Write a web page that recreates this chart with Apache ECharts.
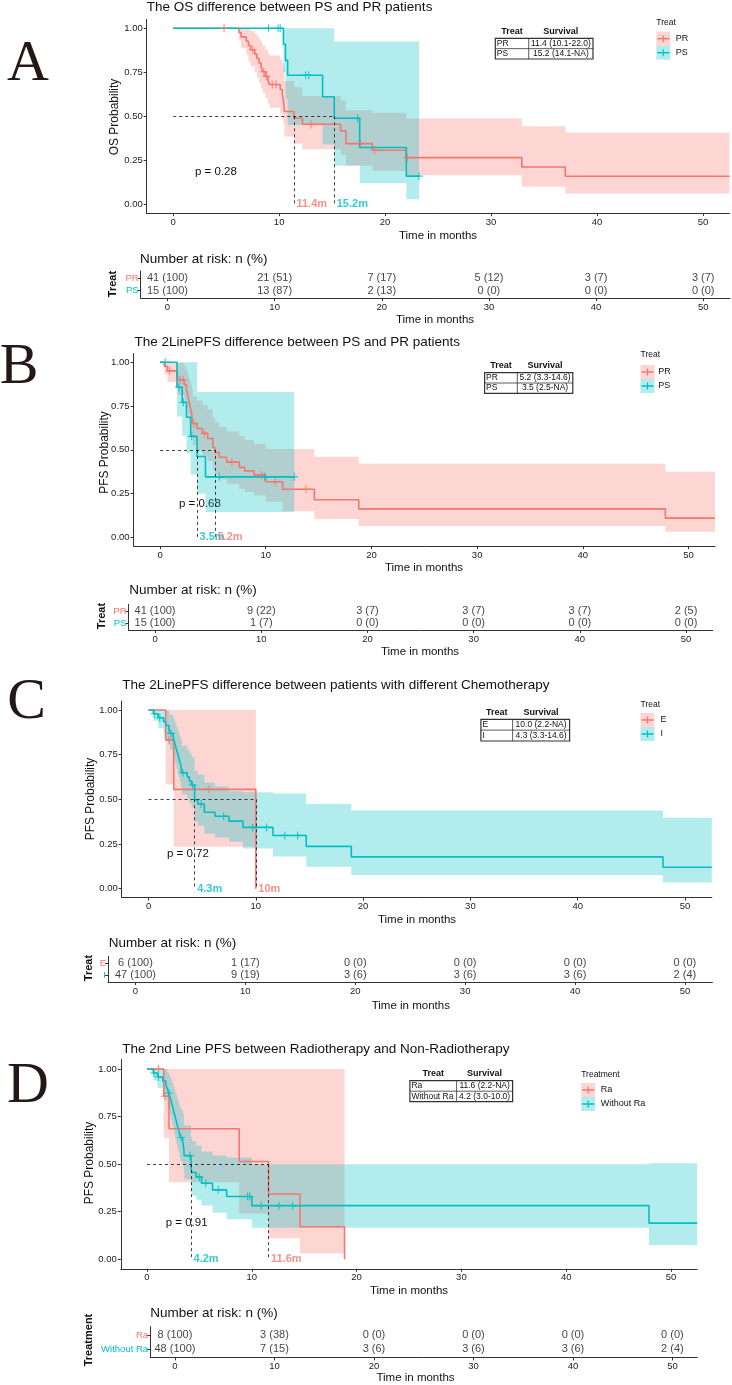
<!DOCTYPE html>
<html>
<head>
<meta charset="utf-8">
<script src="https://cdn.jsdelivr.net/npm/echarts@6/dist/echarts.min.js"></script>
<style>
  html, body { margin: 0; padding: 0; background: #fff; }
  #main { width: 732px; height: 1385px; }
</style>
</head>
<body>
<div id="main"></div>
<script>
var chart = echarts.init(document.getElementById('main'));

var RED = '#F8766D', TEAL = '#00BFC4';
var FONT = '"Liberation Sans", Arial, sans-serif';
var SERIF = '"Liberation Serif", "Times New Roman", serif';
var PLUS = 'path://M4.3,0H5.7V4.3H10V5.7H5.7V10H4.3V5.7H0V4.3H4.3Z';

// ---------- A: OS, PR vs PS ----------
var aPR_t  = [0, 6.2, 6.4, 6.9, 7.1, 7.3, 7.7, 7.9, 8.1, 8.3, 8.45, 8.7, 8.95, 9.1, 10.1, 10.3, 10.4, 10.5, 11.4, 12.2, 15.8, 16.3, 18.8, 22.0, 32.9, 37.0];
var aPR_s  = [1, 0.976, 0.951, 0.927, 0.902, 0.878, 0.853, 0.828, 0.803, 0.778, 0.753, 0.727, 0.70, 0.681, 0.652, 0.623, 0.594, 0.527, 0.49, 0.455, 0.417, 0.345, 0.307, 0.265, 0.212, 0.159];
var aPR_lo = [1, 0.93, 0.887, 0.851, 0.816, 0.783, 0.751, 0.72, 0.689, 0.66, 0.631, 0.601, 0.571, 0.548, 0.516, 0.484, 0.454, 0.385, 0.345, 0.313, 0.28, 0.219, 0.19, 0.165, 0.10, 0.062];
var aPR_hi = [1, 1, 1, 1, 0.998, 0.984, 0.969, 0.953, 0.936, 0.917, 0.899, 0.879, 0.858, 0.846, 0.824, 0.801, 0.778, 0.70, 0.665, 0.615, 0.59, 0.534, 0.52, 0.487, 0.443, 0.408];
var aPR_cens = [4.8, 7.5, 8.55, 8.8, 9.35, 9.7, 13.0, 17.7, 19.0, 22.1];
var aPS_t  = [0, 10.4, 10.6, 10.8, 14.1, 15.2, 17.6, 22.0];
var aPS_s  = [1, 0.909, 0.818, 0.733, 0.611, 0.489, 0.323, 0.16];
var aPS_lo = [1, 0.75, 0.6, 0.45, 0.34, 0.22, 0.12, 0.028];
var aPS_hi = [1, 1, 1, 1, 1, 0.925, 0.925, 0.925];
var aPS_cens = [9.0, 9.9, 10.1, 12.5, 12.8, 17.4, 23.2];
var aMedians = [11.4, 15.2];
var aRiskPR = [41, 21, 7, 5, 3, 3], aRiskPRpct = [100, 51, 17, 12, 7, 7];
var aRiskPS = [15, 13, 2, 0, 0, 0], aRiskPSpct = [100, 87, 13, 0, 0, 0];
var aSummary = [['PR', '11.4 (10.1-22.0)'], ['PS', '15.2 (14.1-NA)']];

// ---------- B: 2nd line PFS, PR vs PS ----------
var bPR_t  = [0, 0.4, 0.7, 1.6, 1.7, 2.3, 2.5, 2.6, 2.7, 2.8, 2.9, 3.0, 3.1, 3.5, 4.0, 4.5, 5.0, 5.2, 5.6, 6.3, 7.5, 8.0, 8.9, 10.0, 11.6, 14.6, 18.8, 47.8];
var bPR_s  = [1, 0.976, 0.951, 0.926, 0.90, 0.872, 0.844, 0.816, 0.788, 0.76, 0.732, 0.704, 0.65, 0.622, 0.594, 0.565, 0.513, 0.485, 0.458, 0.43, 0.40, 0.38, 0.357, 0.318, 0.275, 0.215, 0.163, 0.11];
var bPR_lo = [1, 0.93, 0.887, 0.85, 0.815, 0.78, 0.745, 0.71, 0.68, 0.645, 0.615, 0.585, 0.525, 0.495, 0.467, 0.438, 0.385, 0.358, 0.332, 0.306, 0.278, 0.26, 0.24, 0.204, 0.15, 0.105, 0.065, 0.032];
var bPR_hi = [1, 1, 1, 1, 0.995, 0.975, 0.955, 0.935, 0.915, 0.895, 0.872, 0.848, 0.805, 0.781, 0.757, 0.73, 0.683, 0.657, 0.631, 0.605, 0.577, 0.556, 0.533, 0.505, 0.505, 0.46, 0.42, 0.375];
var bPR_cens = [0.9, 1.9, 2.2, 3.2, 4.2, 6.8, 9.6, 10.9, 13.8];
var bPS_t  = [0, 1.6, 2.1, 2.5, 2.9, 3.5, 4.3];
var bPS_s  = [1, 0.857, 0.771, 0.686, 0.577, 0.462, 0.346];
var bPS_lo = [1, 0.69, 0.58, 0.48, 0.36, 0.25, 0.145];
var bPS_hi = [1, 1, 1, 1, 1, 0.83, 0.83];
var bPS_cens = [0.5, 1.8, 2.2, 3.0, 5.6, 9.9, 12.7];
var bMedians = [5.2, 3.5];
var bRiskPR = [41, 9, 3, 3, 3, 2], bRiskPRpct = [100, 22, 7, 7, 7, 5];
var bRiskPS = [15, 1, 0, 0, 0, 0], bRiskPSpct = [100, 7, 0, 0, 0, 0];
var bSummary = [['PR', '5.2 (3.3-14.6)'], ['PS', '3.5 (2.5-NA)']];

// ---------- C: 2nd line PFS by chemotherapy ----------
var cE_t  = [0, 1.6, 2.35, 10.0];
var cE_s  = [1, 0.833, 0.556, 0];
var cE_lo = [1, 0.584, 0.235];
var cE_hi = [1, 1, 1];
var cE_cens = [1.9, 5.65];
var cI_t  = [0, 0.45, 0.9, 1.4, 1.6, 1.9, 2.0, 2.3, 2.4, 2.5, 2.6, 2.7, 2.8, 2.9, 3.0, 3.1, 3.6, 3.8, 4.0, 4.3, 4.6, 5.2, 6.2, 7.5, 8.8, 11.6, 14.7, 18.9, 47.95];
var cI_s  = [1, 0.979, 0.957, 0.935, 0.913, 0.891, 0.869, 0.847, 0.825, 0.803, 0.781, 0.759, 0.737, 0.715, 0.693, 0.649, 0.626, 0.603, 0.58, 0.497, 0.474, 0.428, 0.405, 0.378, 0.343, 0.298, 0.237, 0.178, 0.12];
var cI_lo = [1, 0.94, 0.90, 0.865, 0.835, 0.805, 0.777, 0.75, 0.723, 0.697, 0.672, 0.647, 0.622, 0.598, 0.574, 0.527, 0.503, 0.479, 0.456, 0.374, 0.352, 0.308, 0.287, 0.262, 0.225, 0.18, 0.123, 0.076, 0.035];
var cI_hi = [1, 1, 1, 1, 0.998, 0.985, 0.972, 0.957, 0.941, 0.925, 0.908, 0.89, 0.873, 0.855, 0.837, 0.80, 0.779, 0.759, 0.738, 0.66, 0.638, 0.595, 0.572, 0.546, 0.54, 0.533, 0.474, 0.437, 0.397];
var cI_cens = [0.55, 1.05, 2.1, 3.2, 4.1, 4.9, 7.0, 9.7, 11.0, 12.7, 13.9];
var cMedians = [10, 4.3];
var cRiskE = [6, 1, 0, 0, 0, 0], cRiskEpct = [100, 17, 0, 0, 0, 0];
var cRiskI = [47, 9, 3, 3, 3, 2], cRiskIpct = [100, 19, 6, 6, 6, 4];
var cSummary = [['E', '10.0 (2.2-NA)'], ['I', '4.3 (3.3-14.6)']];

// ---------- D: 2nd line PFS, radiotherapy ----------
var dRa_t  = [0, 1.6, 2.1, 8.8, 11.6, 14.6, 18.85];
var dRa_s  = [1, 0.857, 0.686, 0.514, 0.343, 0.171, 0];
var dRa_lo = [1, 0.636, 0.405, 0.24, 0.11, 0.03];
var dRa_hi = [1, 1, 1, 1, 1, 1];
var dRa_cens = [1.1, 1.7];
var dWo_t  = [0, 0.6, 1.0, 1.5, 1.8, 1.95, 2.05, 2.2, 2.3, 2.4, 2.5, 2.6, 2.7, 2.8, 2.9, 3.0, 3.1, 3.2, 3.4, 3.5, 3.55, 4.2, 4.3, 4.7, 5.2, 6.25, 7.6, 10.0, 47.9];
var dWo_s  = [1, 0.979, 0.958, 0.937, 0.916, 0.895, 0.874, 0.852, 0.831, 0.81, 0.789, 0.767, 0.746, 0.725, 0.703, 0.682, 0.661, 0.64, 0.618, 0.589, 0.545, 0.478, 0.456, 0.433, 0.40, 0.365, 0.33, 0.282, 0.19];
var dWo_lo = [1, 0.94, 0.90, 0.87, 0.84, 0.81, 0.785, 0.757, 0.731, 0.705, 0.68, 0.655, 0.63, 0.607, 0.583, 0.56, 0.538, 0.516, 0.493, 0.464, 0.42, 0.355, 0.335, 0.313, 0.283, 0.245, 0.21, 0.166, 0.075];
var dWo_hi = [1, 1, 1, 1, 0.998, 0.985, 0.972, 0.958, 0.943, 0.927, 0.911, 0.895, 0.878, 0.861, 0.843, 0.825, 0.807, 0.789, 0.769, 0.742, 0.705, 0.643, 0.62, 0.598, 0.566, 0.545, 0.535, 0.50, 0.505];
var dWo_cens = [0.67, 1.1, 2.1, 3.25, 4.1, 5.0, 5.6, 6.8, 9.6, 9.8, 10.9, 12.6, 13.9];
var dMedians = [11.6, 4.2];
var dRiskRa = [8, 3, 0, 0, 0, 0], dRiskRapct = [100, 38, 0, 0, 0, 0];
var dRiskWo = [48, 7, 3, 3, 3, 2], dRiskWopct = [100, 15, 6, 6, 6, 4];
var dSummary = [['Ra', '11.6 (2.2-NA)'], ['Without Ra', '4.2 (3.0-10.0)']];

var timeTicks = [0, 10, 20, 30, 40, 50];
var probTicks = [0, 0.25, 0.5, 0.75, 1];

// 每个面板的布局 (pixel positions)
var panels = [
  {
    letter: 'A', lx: 28, ly: 65, title: 'The OS difference between PS and PR patients', tx: 146.7, ty: 7,
    grid: [146.7, 19.5, 582.8, 193.6], ylab: 'OS Probability', ylx: 115, yly: 117, xlx: 438, xly: 236,
    pval: 'p = 0.28', px: 195, py: 172, medians: aMedians,
    curves: [
      { name: 'PR', color: RED, t: aPR_t, s: aPR_s, lo: aPR_lo, hi: aPR_hi, end: 52.5, cens: aPR_cens, risk: aRiskPR, pct: aRiskPRpct },
      { name: 'PS', color: TEAL, t: aPS_t, s: aPS_s, lo: aPS_lo, hi: aPS_hi, end: 23.2, cens: aPS_cens, risk: aRiskPS, pct: aRiskPSpct }
    ],
    legend: { title: 'Treat', x: 656.3, y: 22.7, keyTop: 31.7, labX: 675.7 },
    table: { x0: 495.3, x1: 593, y0: 38.3, y1: 59, div: 528.7, hy: 31.7, rows: aSummary },
    risk: { grid: [140.7, 270.8, 589.3, 27.3], tx: 140, ty: 259.3, nameX: 113, nameY: 284, name: 'Treat', xlx: 435, xly: 320 }
  },
  {
    letter: 'B', lx: 19, ly: 368, title: 'The 2LinePFS difference between PS and PR patients', tx: 134.5, ty: 342.3,
    grid: [133.6, 353.5, 581.4, 192.7], ylab: 'PFS Probability', ylx: 105, yly: 452.5, xlx: 424, xly: 568,
    pval: 'p = 0.68', px: 179, py: 503.7, medians: bMedians,
    curves: [
      { name: 'PR', color: RED, t: bPR_t, s: bPR_s, lo: bPR_lo, hi: bPR_hi, end: 52.5, cens: bPR_cens, risk: bRiskPR, pct: bRiskPRpct },
      { name: 'PS', color: TEAL, t: bPS_t, s: bPS_s, lo: bPS_lo, hi: bPS_hi, end: 12.7, cens: bPS_cens, risk: bRiskPS, pct: bRiskPSpct }
    ],
    legend: { title: 'Treat', x: 640.5, y: 355, keyTop: 365, labX: 658.3 },
    table: { x0: 484.6, x1: 572.8, y0: 372.7, y1: 393.3, div: 517.3, hy: 365.7, rows: bSummary },
    risk: { grid: [128.5, 604.3, 584.1, 25.7], tx: 129.3, ty: 590.3, nameX: 101.8, nameY: 616, name: 'Treat', xlx: 420, xly: 651.7 }
  },
  {
    letter: 'C', lx: 26.5, ly: 703, title: 'The 2LinePFS difference between patients with different Chemotherapy', tx: 122.3, ty: 685,
    grid: [121.7, 701.1, 590.1, 196.5], ylab: 'PFS Probability', ylx: 91, yly: 799, xlx: 417, xly: 920,
    pval: 'p = 0.72', px: 167, py: 854, medians: cMedians,
    curves: [
      { name: 'E', color: RED, t: cE_t, s: cE_s, lo: cE_lo, hi: cE_hi, end: 10.0, cens: cE_cens, risk: cRiskE, pct: cRiskEpct },
      { name: 'I', color: TEAL, t: cI_t, s: cI_s, lo: cI_lo, hi: cI_hi, end: 52.5, cens: cI_cens, risk: cRiskI, pct: cRiskIpct }
    ],
    legend: { title: 'Treat', x: 640.5, y: 705, keyTop: 713, labX: 660.6 },
    table: { x0: 480.9, x1: 569.6, y0: 719.3, y1: 741, div: 512.6, hy: 712.7, rows: cSummary },
    risk: { grid: [108, 956.3, 604.4, 25.7], tx: 108.8, ty: 943.3, nameX: 88.7, nameY: 968, name: 'Treat', xlx: 410.8, xly: 1006 }
  },
  {
    letter: 'D', lx: 28, ly: 1087, title: 'The 2nd Line PFS between Radiotherapy and Non-Radiotherapy', tx: 122.3, ty: 1049,
    grid: [120.8, 1059.5, 576.4, 209.3], ylab: 'PFS Probability', ylx: 90, yly: 1163, xlx: 409, xly: 1290.7,
    pval: 'p = 0.91', px: 165.7, py: 1222.7, medians: dMedians,
    curves: [
      { name: 'Ra', color: RED, t: dRa_t, s: dRa_s, lo: dRa_lo, hi: dRa_hi, end: 18.85, cens: dRa_cens, risk: dRiskRa, pct: dRiskRapct },
      { name: 'Without Ra', color: TEAL, t: dWo_t, s: dWo_s, lo: dWo_lo, hi: dWo_hi, end: 52.5, cens: dWo_cens, risk: dRiskWo, pct: dRiskWopct }
    ],
    legend: { title: 'Treatment', x: 581.2, y: 1074.3, keyTop: 1083, labX: 600.8 },
    table: { x0: 409.9, x1: 512.6, y0: 1080.7, y1: 1101.7, div: 456.6, hy: 1074, rows: dSummary },
    risk: { grid: [150.1, 1326.6, 547.2, 30.8], tx: 150.3, ty: 1313.3, nameX: 88.7, nameY: 1340, name: 'Treatment', xlx: 415.5, xly: 1378.3 }
  }
];

function stepAt(c, t) {
  var v = c.s[0];
  for (var i = 0; i < c.t.length; i++) { if (c.t[i] <= t) v = c.s[i]; }
  return v;
}

function timeAxis(gi) {
  return {
    type: 'value', gridIndex: gi, min: -2.5, max: 52.5,
    axisLine: { onZero: false, lineStyle: { color: '#333', width: 1 } },
    splitLine: { show: false },
    axisTick: { length: 3, customValues: timeTicks, lineStyle: { color: '#333' } },
    axisLabel: { customValues: timeTicks, fontSize: 9.5, color: '#222', margin: 4, fontFamily: FONT }
  };
}

var grids = [], xAxes = [], yAxes = [], series = [], graphics = [];

function txt(x, y, text, o) {
  o = o || {};
  graphics.push({
    type: 'text', x: x, y: y, rotation: o.rot || 0, silent: true,
    style: {
      text: text, fontSize: o.size || 11, fontFamily: o.family || FONT, fill: o.color || '#111',
      fontWeight: o.weight || 'normal', align: o.align || 'left', verticalAlign: 'middle'
    }
  });
}
function line(x1, y1, x2, y2, color, w) {
  graphics.push({ type: 'line', silent: true, shape: { x1: x1, y1: y1, x2: x2, y2: y2 }, style: { stroke: color, lineWidth: w } });
}

panels.forEach(function (p) {
  // ---- main KM grid ----
  var gi = grids.length;
  grids.push({ left: p.grid[0], top: p.grid[1], width: p.grid[2], height: p.grid[3] });
  xAxes.push(timeAxis(gi));
  yAxes.push({
    type: 'value', gridIndex: gi, min: -0.05, max: 1.05,
    axisLine: { show: true, onZero: false, lineStyle: { color: '#333', width: 1 } },
    splitLine: { show: false },
    axisTick: { show: true, length: 3, customValues: probTicks, lineStyle: { color: '#333' } },
    axisLabel: { customValues: probTicks, fontSize: 9.5, color: '#222', margin: 4, fontFamily: FONT,
      formatter: function (v) { return v.toFixed(2); } }
  });

  // confidence bands
  p.curves.forEach(function (c) {
    series.push({
      type: 'custom', xAxisIndex: gi, yAxisIndex: gi, silent: true, z: 1, animation: false,
      data: [[0, 0]],
      renderItem: function (params, api) {
        var up = [], dn = [];
        for (var i = 0; i < c.lo.length; i++) {
          var t0 = c.t[i], t1 = (i + 1 < c.t.length) ? c.t[i + 1] : c.end;
          up.push(api.coord([t0, c.hi[i]]), api.coord([t1, c.hi[i]]));
          dn.push(api.coord([t0, c.lo[i]]), api.coord([t1, c.lo[i]]));
        }
        return { type: 'polygon', shape: { points: up.concat(dn.reverse()) }, style: { fill: c.color, opacity: 0.3 } };
      }
    });
  });
  // survival curves + censor marks
  p.curves.forEach(function (c) {
    var pts = c.t.map(function (t, i) { return [t, c.s[i]]; });
    if (c.end > c.t[c.t.length - 1]) pts.push([c.end, c.s[c.s.length - 1]]);
    series.push({
      type: 'line', step: 'end', xAxisIndex: gi, yAxisIndex: gi, symbol: 'none', silent: true, z: 3, animation: false,
      lineStyle: { color: c.color, width: 1.6 }, data: pts
    });
    series.push({
      type: 'scatter', xAxisIndex: gi, yAxisIndex: gi, symbol: PLUS, symbolSize: 8, silent: true, z: 4, animation: false,
      itemStyle: { color: c.color },
      data: c.cens.map(function (t) { return [t, stepAt(c, t)]; })
    });
  });
  // median lines
  var medMax = Math.max.apply(null, p.medians);
  var segs = [{ coords: [[0, 0.5], [medMax, 0.5]] }];
  p.medians.forEach(function (m) { segs.push({ coords: [[m, 0.5], [m, 0]] }); });
  series.push({
    type: 'lines', coordinateSystem: 'cartesian2d', xAxisIndex: gi, yAxisIndex: gi, silent: true, z: 5, animation: false,
    lineStyle: { color: '#111', width: 0.8, type: [3, 3], opacity: 1 }, data: segs
  });
  // median labels (second stratum first so the first one sits on top)
  [1, 0].forEach(function (k) {
    var c = p.curves[k];
    series.push({
      type: 'scatter', xAxisIndex: gi, yAxisIndex: gi, symbolSize: 1, silent: true, z: 6 + (1 - k), animation: false,
      itemStyle: { color: 'rgba(0,0,0,0)' },
      label: { show: true, position: 'right', distance: 2, fontSize: 11, fontWeight: 'bold', fontFamily: FONT, color: c.color,
        formatter: function (q) { return q.value[0] + 'm'; } },
      data: [[p.medians[k], 0]]
    });
  });

  // ---- risk table grid ----
  var ri = grids.length;
  var r = p.risk;
  grids.push({ left: r.grid[0], top: r.grid[1], width: r.grid[2], height: r.grid[3] });
  xAxes.push(timeAxis(ri));
  var names = p.curves.map(function (c) { return c.name; });
  yAxes.push({
    type: 'value', gridIndex: ri, min: 0.4, max: 2.6, inverse: true,
    axisLine: { show: true, onZero: false, lineStyle: { color: '#333', width: 1 } },
    splitLine: { show: false },
    axisTick: { show: true, length: 3, customValues: [1, 2], lineStyle: { color: '#333' } },
    axisLabel: { customValues: [1, 2], margin: 2, fontFamily: FONT, fontSize: 9.5,
      formatter: function (v) { var k = Math.round(v) - 1; return '{c' + k + '|' + names[k] + '}'; },
      rich: { c0: { color: RED, fontSize: 9.5, fontFamily: FONT }, c1: { color: TEAL, fontSize: 9.5, fontFamily: FONT } } }
  });
  p.curves.forEach(function (c, k) {
    series.push({
      type: 'scatter', xAxisIndex: ri, yAxisIndex: ri, symbolSize: 1, silent: true, z: 3, animation: false,
      itemStyle: { color: 'rgba(0,0,0,0)' },
      label: { show: true, position: 'inside', fontSize: 11, fontFamily: FONT, color: '#111',
        formatter: function (q) { return q.value[2] + ' (' + q.value[3] + ')'; } },
      data: timeTicks.map(function (t, j) { return [t, k + 1, c.risk[j], c.pct[j]]; })
    });
  });

  // ---- text decorations ----
  txt(p.lx, p.ly, p.letter, { size: 58, family: SERIF, color: '#231815', align: 'center' });
  txt(p.tx, p.ty, p.title, { size: 13.5 });
  txt(p.ylx, p.yly, p.ylab, { size: 12, align: 'center', rot: Math.PI / 2 });
  txt(p.xlx, p.xly, 'Time in months', { size: 11.5, align: 'center' });
  txt(p.px, p.py, p.pval, { size: 11.5 });
  txt(r.tx, r.ty, 'Number at risk: n (%)', { size: 13.5 });
  txt(r.nameX, r.nameY, r.name, { size: 11, weight: 'bold', align: 'center', rot: Math.PI / 2 });
  txt(r.xlx, r.xly, 'Time in months', { size: 11.5, align: 'center' });

  // legend
  var L = p.legend;
  txt(L.x, L.y, L.title, { size: 8.5 });
  p.curves.forEach(function (c, k) {
    var top = L.keyTop + k * 14, cy = top + 7;
    graphics.push({ type: 'rect', silent: true, shape: { x: L.x, y: top, width: 14, height: 14 }, style: { fill: c.color, opacity: 0.3 } });
    line(L.x + 1, cy, L.x + 13, cy, c.color, 1.5);
    line(L.x + 7, cy - 3.5, L.x + 7, cy + 3.5, c.color, 1.2);
    txt(L.labX, cy, c.name, { size: 9 });
  });

  // survival summary table
  var T = p.table, mid = (T.y0 + T.y1) / 2;
  graphics.push({ type: 'rect', silent: true, shape: { x: T.x0, y: T.y0, width: T.x1 - T.x0, height: T.y1 - T.y0 },
    style: { fill: 'none', stroke: '#333', lineWidth: 1.2 } });
  line(T.x0, mid, T.x1, mid, '#333', 0.8);
  line(T.div, T.y0, T.div, T.y1, '#333', 0.8);
  txt((T.x0 + T.div) / 2, T.hy, 'Treat', { size: 9, weight: 'bold', align: 'center' });
  txt((T.div + T.x1) / 2, T.hy, 'Survival', { size: 9, weight: 'bold', align: 'center' });
  T.rows.forEach(function (row, k) {
    var cy = T.y0 + (k + 0.5) * (T.y1 - T.y0) / 2;
    txt(T.x0 + 1.5, cy, row[0], { size: 8.5 });
    txt((T.div + T.x1) / 2, cy, row[1], { size: 8.5, align: 'center' });
  });
});

var option = {
  backgroundColor: '#fff',
  animation: false,
  grid: grids,
  xAxis: xAxes,
  yAxis: yAxes,
  series: series,
  graphic: { elements: graphics }
};
chart.setOption(option);
window.addEventListener('resize', function () { chart.resize(); });
</script>
</body>
</html>
